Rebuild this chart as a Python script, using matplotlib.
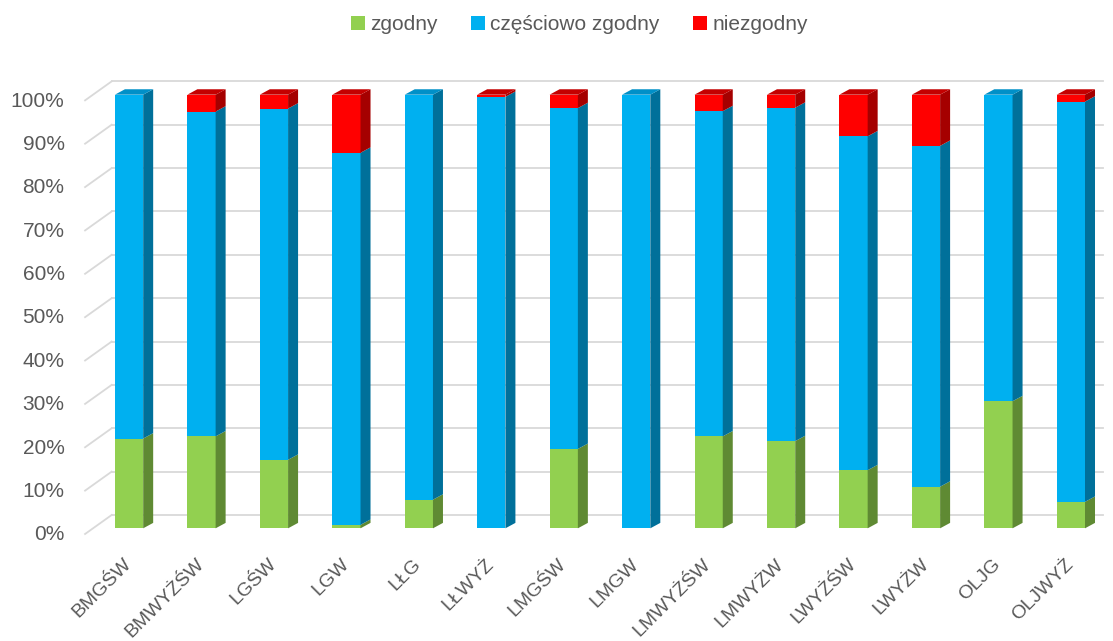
import matplotlib
matplotlib.use('Agg')
import matplotlib.pyplot as plt
from matplotlib.patches import Polygon, Patch
import numpy as np

# Values (%)
categories = ['BMGŚW', 'BMWYŻŚW', 'LGŚW', 'LGW', 'LŁG', 'LŁWYŻ', 'LMGŚW',
              'LMGW', 'LMWYŻŚW', 'LMWYŻW', 'LWYŻŚW', 'LWYŻW', 'OLJG', 'OLJWYŻ']
zgodny = [20.7, 21.2, 15.8, 0.8, 6.6, 0.0, 18.3, 0.0, 21.2, 20.1, 13.4, 9.6, 29.3, 6.1]
czesciowo = [79.3, 74.9, 81.0, 85.8, 93.4, 99.5, 78.6, 100.0, 75.0, 76.9, 77.0, 78.6, 70.7, 92.3]
niezgodny = [0.0, 3.9, 3.2, 13.4, 0.0, 0.5, 3.1, 0.0, 3.8, 3.0, 9.6, 11.8, 0.0, 1.6]
series_names = ['zgodny', 'częściowo zgodny', 'niezgodny']
yticks = [0, 10, 20, 30, 40, 50, 60, 70, 80, 90, 100]

plt.rcParams['font.family'] = ['Liberation Sans', 'DejaVu Sans']
txt_color = '#595959'

# front, side, top colours for each series
colors = [('#92D050', '#5F8A33', '#76A83F'),
          ('#00B0F0', '#00709A', '#0090C8'),
          ('#FF0000', '#A50000', '#C40000')]

fig = plt.figure(figsize=(11.13, 6.41), dpi=100)
ax = fig.add_axes([0.0834, 0.1758, 0.9113, 0.6765])
ax.set_xlim(-0.5, 13.5)
ax.set_ylim(0, 100)
for s in ax.spines.values():
    s.set_visible(False)

x = np.arange(len(categories))
width = 0.39
dx = 0.138   # depth in x (data units)
dy = 1.25    # depth in y (%)

# back wall gridlines with the slanted left edge
wall_dy = 3.07
front_dy = -1.31
for v in yticks:
    ax.plot([-0.24, 13.44], [v + wall_dy, v + wall_dy], color='#D9D9D9', lw=1.3,
            clip_on=False, zorder=1)
    ax.plot([-0.607, -0.24], [v + front_dy, v + wall_dy], color='#D9D9D9', lw=1.3,
            clip_on=False, zorder=1)
    ax.text(-0.89, v - 1.5, f'{v}%', ha='right', va='center', fontsize=15,
            color=txt_color)

data = [zgodny, czesciowo, niezgodny]
bottom = np.zeros(len(categories))
for vals, (front, side, top), name in zip(data, colors, series_names):
    vals = np.array(vals)
    ax.bar(x, vals, width, bottom=bottom, color=front, label=name, zorder=3,
           clip_on=False)
    for i in range(len(x)):
        if vals[i] <= 0:
            continue
        r = x[i] + width / 2
        y0, y1 = bottom[i], bottom[i] + vals[i]
        ax.add_patch(Polygon([(r, y0), (r + dx, y0 + dy), (r + dx, y1 + dy), (r, y1)],
                             closed=True, facecolor=side, edgecolor='none',
                             zorder=3, clip_on=False))
    bottom = bottom + vals

# top faces drawn in the colour of the topmost segment
for i in range(len(x)):
    top_idx = max(k for k in range(3) if data[k][i] > 0)
    l = x[i] - width / 2
    r = x[i] + width / 2
    t = bottom[i]
    ax.add_patch(Polygon([(l, t), (l + dx, t + dy), (r + dx, t + dy), (r, t)],
                         closed=True, facecolor=colors[top_idx][2], edgecolor='none',
                         zorder=4, clip_on=False))

ax.set_yticks([])
ax.set_xticks(x)
ax.set_xticklabels(categories, rotation=45, ha='right', va='center',
                   rotation_mode='anchor', fontsize=14, color=txt_color)
ax.tick_params(axis='x', length=0, pad=24)

handles = [Patch(facecolor=c[0], edgecolor='none') for c in colors]
fig.legend(handles, series_names, loc='center', bbox_to_anchor=(0.5207, 0.961),
           ncol=3, frameon=False, fontsize=15, labelcolor=txt_color,
           handlelength=0.67, handleheight=0.67, handletextpad=0.25,
           columnspacing=1.6)

fig.savefig('out.png', dpi=100)
